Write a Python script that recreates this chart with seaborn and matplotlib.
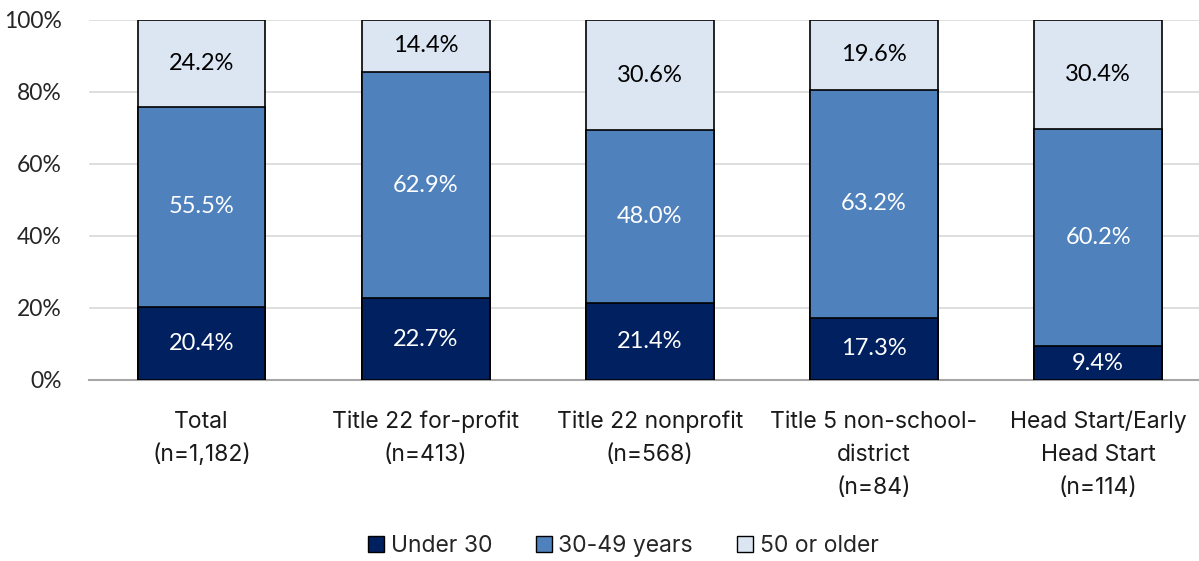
import numpy as np
import pandas as pd
import seaborn as sns
import matplotlib.pyplot as plt
from matplotlib.patches import Patch

categories = ["Total\n(n=1,182)", "Title 22 for-profit\n(n=413)", "Title 22 nonprofit\n(n=568)",
              "Title 5 non-school-\ndistrict\n(n=84)", "Head Start/Early\nHead Start\n(n=114)"]
under30 = [20.4, 22.7, 21.4, 17.3, 9.4]
mid = [55.5, 62.9, 48.0, 63.2, 60.2]
older = [24.2, 14.4, 30.6, 19.6, 30.4]
series = ["Under 30", "30-49 years", "50 or older"]
colors = ["#002060", "#4F81BD", "#DCE6F2"]
text_colors = ["white", "white", "black"]

sns.set_theme(style="white")
plt.rcParams['font.family'] = ['Lato', 'DejaVu Sans']
side_font = ['Inter', 'DejaVu Sans']

fig = plt.figure(figsize=(11.99, 5.61), dpi=100)
ax = fig.add_axes([89.5/1199, 1-380/561, (1199-89.5)/1199, 360/561])

df = pd.DataFrame({"cat": categories, series[0]: under30, series[1]: mid, series[2]: older})
bottom = np.zeros(len(categories))
for s, c, tc in zip(series, colors, text_colors):
    cum = bottom + df[s].values
    sns.barplot(x=df["cat"], y=cum, color=c, width=0.57, edgecolor="black", linewidth=1.2,
                ax=ax, zorder=5 - series.index(s), saturation=1)
    for i, v in enumerate(df[s].values):
        ax.text(i, bottom[i] + v / 2, f"{v:.1f}%", ha="center", va="center",
                color=tc, fontsize=17, zorder=10)
    bottom = cum

ax.set_xlim(-0.5, 4.45)
ax.set_ylim(0, 100)
ax.set_yticks(range(0, 101, 20))
ax.set_yticklabels([f"{t}%" for t in range(0, 101, 20)], fontsize=16.5)
ax.tick_params(axis="x", pad=22, length=0)
ax.tick_params(axis="y", pad=20, length=0)
ax.set_xlabel("")
ax.set_ylabel("")
ax.yaxis.grid(True, color="#D9D9D9", linewidth=1.2)
ax.set_axisbelow(True)
for sp in ["top", "right", "left"]:
    ax.spines[sp].set_visible(False)
ax.spines["bottom"].set_color("#A6A6A6")
ax.spines["bottom"].set_linewidth(1.5)
for lab in ax.get_xticklabels():
    lab.set_family(side_font)
    lab.set_fontsize(16.5)
    lab.set_linespacing(1.65)
    lab.set_color("#1a1a1a")

handles = [Patch(facecolor=c, edgecolor="black", label=s) for s, c in zip(series, colors)]
fig.legend(handles=handles, loc="center", bbox_to_anchor=(623/1199, 1-546/561), ncol=3,
           frameon=False, prop={"family": side_font, "size": 16.5},
           handlelength=0.7, handleheight=0.7, handletextpad=0.3, columnspacing=1.9)

fig.savefig("out.png", dpi=100)
